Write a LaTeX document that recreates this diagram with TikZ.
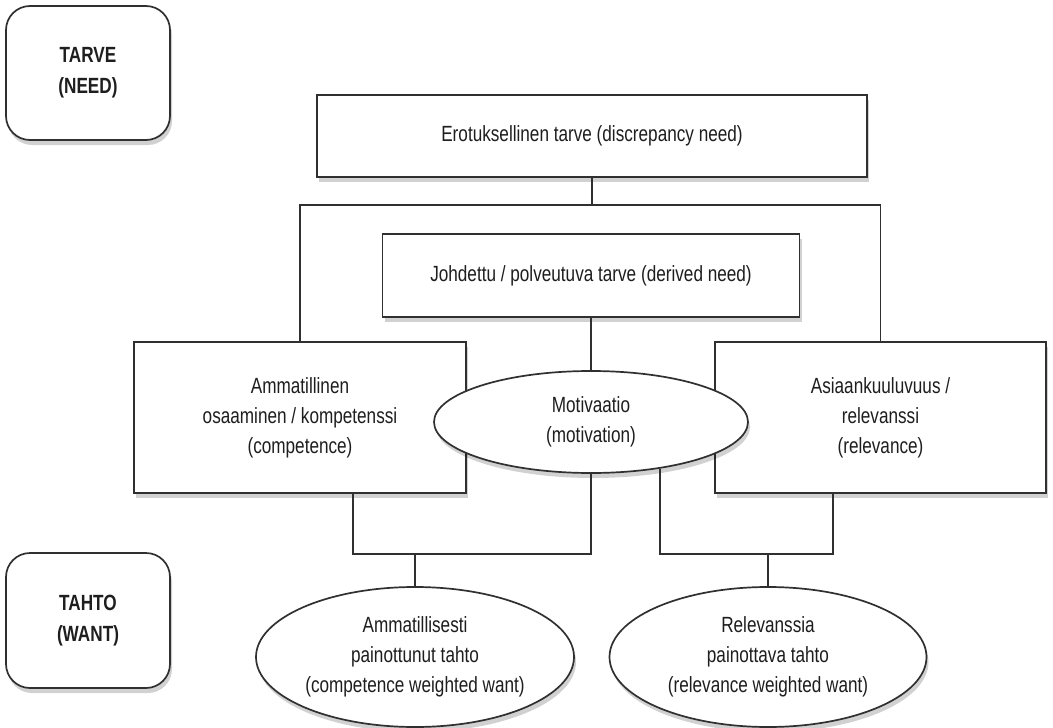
\documentclass[tikz,border=0pt]{standalone}
\usepackage{fontspec}
\setmainfont{Liberation Sans}[FakeStretch=0.78]
\usetikzlibrary{shapes.geometric,shadows}
\definecolor{ink}{HTML}{1E1E1E}
\definecolor{edge}{HTML}{303030}
\tikzset{
  base/.style={draw=edge, line width=1.7pt, fill=white, text=ink, align=center,
    font=\fontsize{22}{30}\selectfont, inner sep=0pt,
    drop shadow={shadow xshift=2pt, shadow yshift=-5pt, opacity=0.18, fill=black}},
  box/.style={base, rectangle},
  rbox/.style={base, rectangle, rounded corners=24pt, font=\fontsize{22}{31}\selectfont\bfseries},
  oval/.style={base, ellipse},
  link/.style={draw=edge, line width=1.7pt}
}
\begin{document}
\begin{tikzpicture}[x=1pt, y=-1pt]
\useasboundingbox (0,0) rectangle (1053,728);
\fill[white] (0,0) rectangle (1053,728);

\node[rbox, minimum width=164pt, minimum height=134pt] (need) at (88,73) {TARVE\\(NEED)};
\node[rbox, minimum width=164pt, minimum height=135pt] (want) at (88,620.5) {TAHTO\\(WANT)};

\node[box, minimum width=550pt, minimum height=82pt] (ero) at (592,136) {Erotuksellinen tarve (discrepancy need)};
\node[box, minimum width=417pt, minimum height=83pt] (joh) at (591,275.5) {Johdettu / polveutuva tarve (derived need)};
\node[box, minimum width=332pt, minimum height=151pt] (comp) at (300,417.5) {Ammatillinen\\osaaminen / kompetenssi\\(competence)};
\node[box, minimum width=331pt, minimum height=151pt] (rel) at (880.5,417.5) {Asiaankuuluvuus /\\relevanssi\\(relevance)};
\node[oval, minimum width=314pt, minimum height=102pt] (moti) at (591,422) {Motivaatio\\(motivation)};
\node[oval, minimum width=318pt, minimum height=140pt] (cw) at (415,657) {Ammatillisesti\\painottunut tahto\\(competence weighted want)};
\node[oval, minimum width=317pt, minimum height=140pt] (rw) at (768,657) {Relevanssia\\painottava tahto\\(relevance weighted want)};

\coordinate (bus) at (592,205);
\coordinate (j1) at (415,554);
\coordinate (j2) at (768,554);

\draw[link] (ero.south) -- (bus);
\draw[link] (comp.north) |- (bus) -| (rel.north);
\draw[link] (joh.south) -- (moti.north);
\draw[link] ([xshift=53pt]comp.south) |- (j1) -| (moti.south);
\draw[link] (j1) -- (cw.north);
\draw[link] (moti.-34.5) |- (j2) -| ([xshift=-47.5pt]rel.south);
\draw[link] (j2) -- (rw.north);
\end{tikzpicture}
\end{document}
